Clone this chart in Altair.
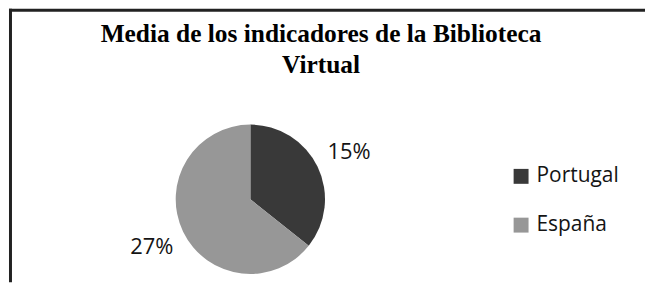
import altair as alt
import pandas as pd

countries = ["Portugal", "España"]
values = [15, 27]
labels = ["15%", "27%"]
colors = ["#393939", "#979797"]
title_lines = ["Media de los indicadores de la Biblioteca", "Virtual"]

df = pd.DataFrame({
    "pais": countries,
    "valor": values,
    "etiqueta": labels,
    "orden": list(range(len(countries))),
})

W, H = 640, 275
CX, CY = 243.5, 191.5

base = alt.Chart(df).encode(
    theta=alt.Theta("valor:Q", stack=True),
    order=alt.Order("orden:Q"),
    x=alt.value(CX),
    y=alt.value(CY),
)

pie = base.mark_arc(radius=75, strokeWidth=0).encode(
    color=alt.Color(
        "pais:N",
        scale=alt.Scale(domain=countries, range=colors),
        sort=countries,
        legend=alt.Legend(
            title=None,
            orient="none",
            legendX=505,
            legendY=158,
            symbolType="square",
            symbolSize=225,
            symbolStrokeWidth=0,
            labelFont="Open Sans",
            labelFontSize=21,
            labelColor="#141414",
            labelOffset=5,
            rowPadding=27,
            padding=0,
        ),
    )
)

text = base.mark_text(
    radius=110, font="Open Sans", fontSize=22, color="#141414"
).encode(text="etiqueta:N")

one = alt.Data(values=[{"k": 0}])

title = alt.Chart(one).mark_text(
    text=title_lines,
    font="Liberation Serif",
    fontWeight="bold",
    fontSize=25.5,
    lineHeight=31,
    align="center",
    baseline="alphabetic",
    color="#000000",
).encode(x=alt.value(314.5), y=alt.value(34))

vline = alt.Chart(one).mark_rule(color="#222222", strokeWidth=3).encode(
    x=alt.value(2.5), y=alt.value(0), y2=alt.value(H)
)
hline = alt.Chart(one).mark_rule(color="#222222", strokeWidth=3).encode(
    y=alt.value(1.5), x=alt.value(1), x2=alt.value(W)
)

chart = alt.layer(pie, text, title, vline, hline).properties(
    width=W,
    height=H,
    padding=0,
    autosize=alt.AutoSizeParams(type="none"),
    background="#ffffff",
).configure_view(stroke=None)

chart.save("out.html", embed_options={"renderer": "svg", "actions": False})
